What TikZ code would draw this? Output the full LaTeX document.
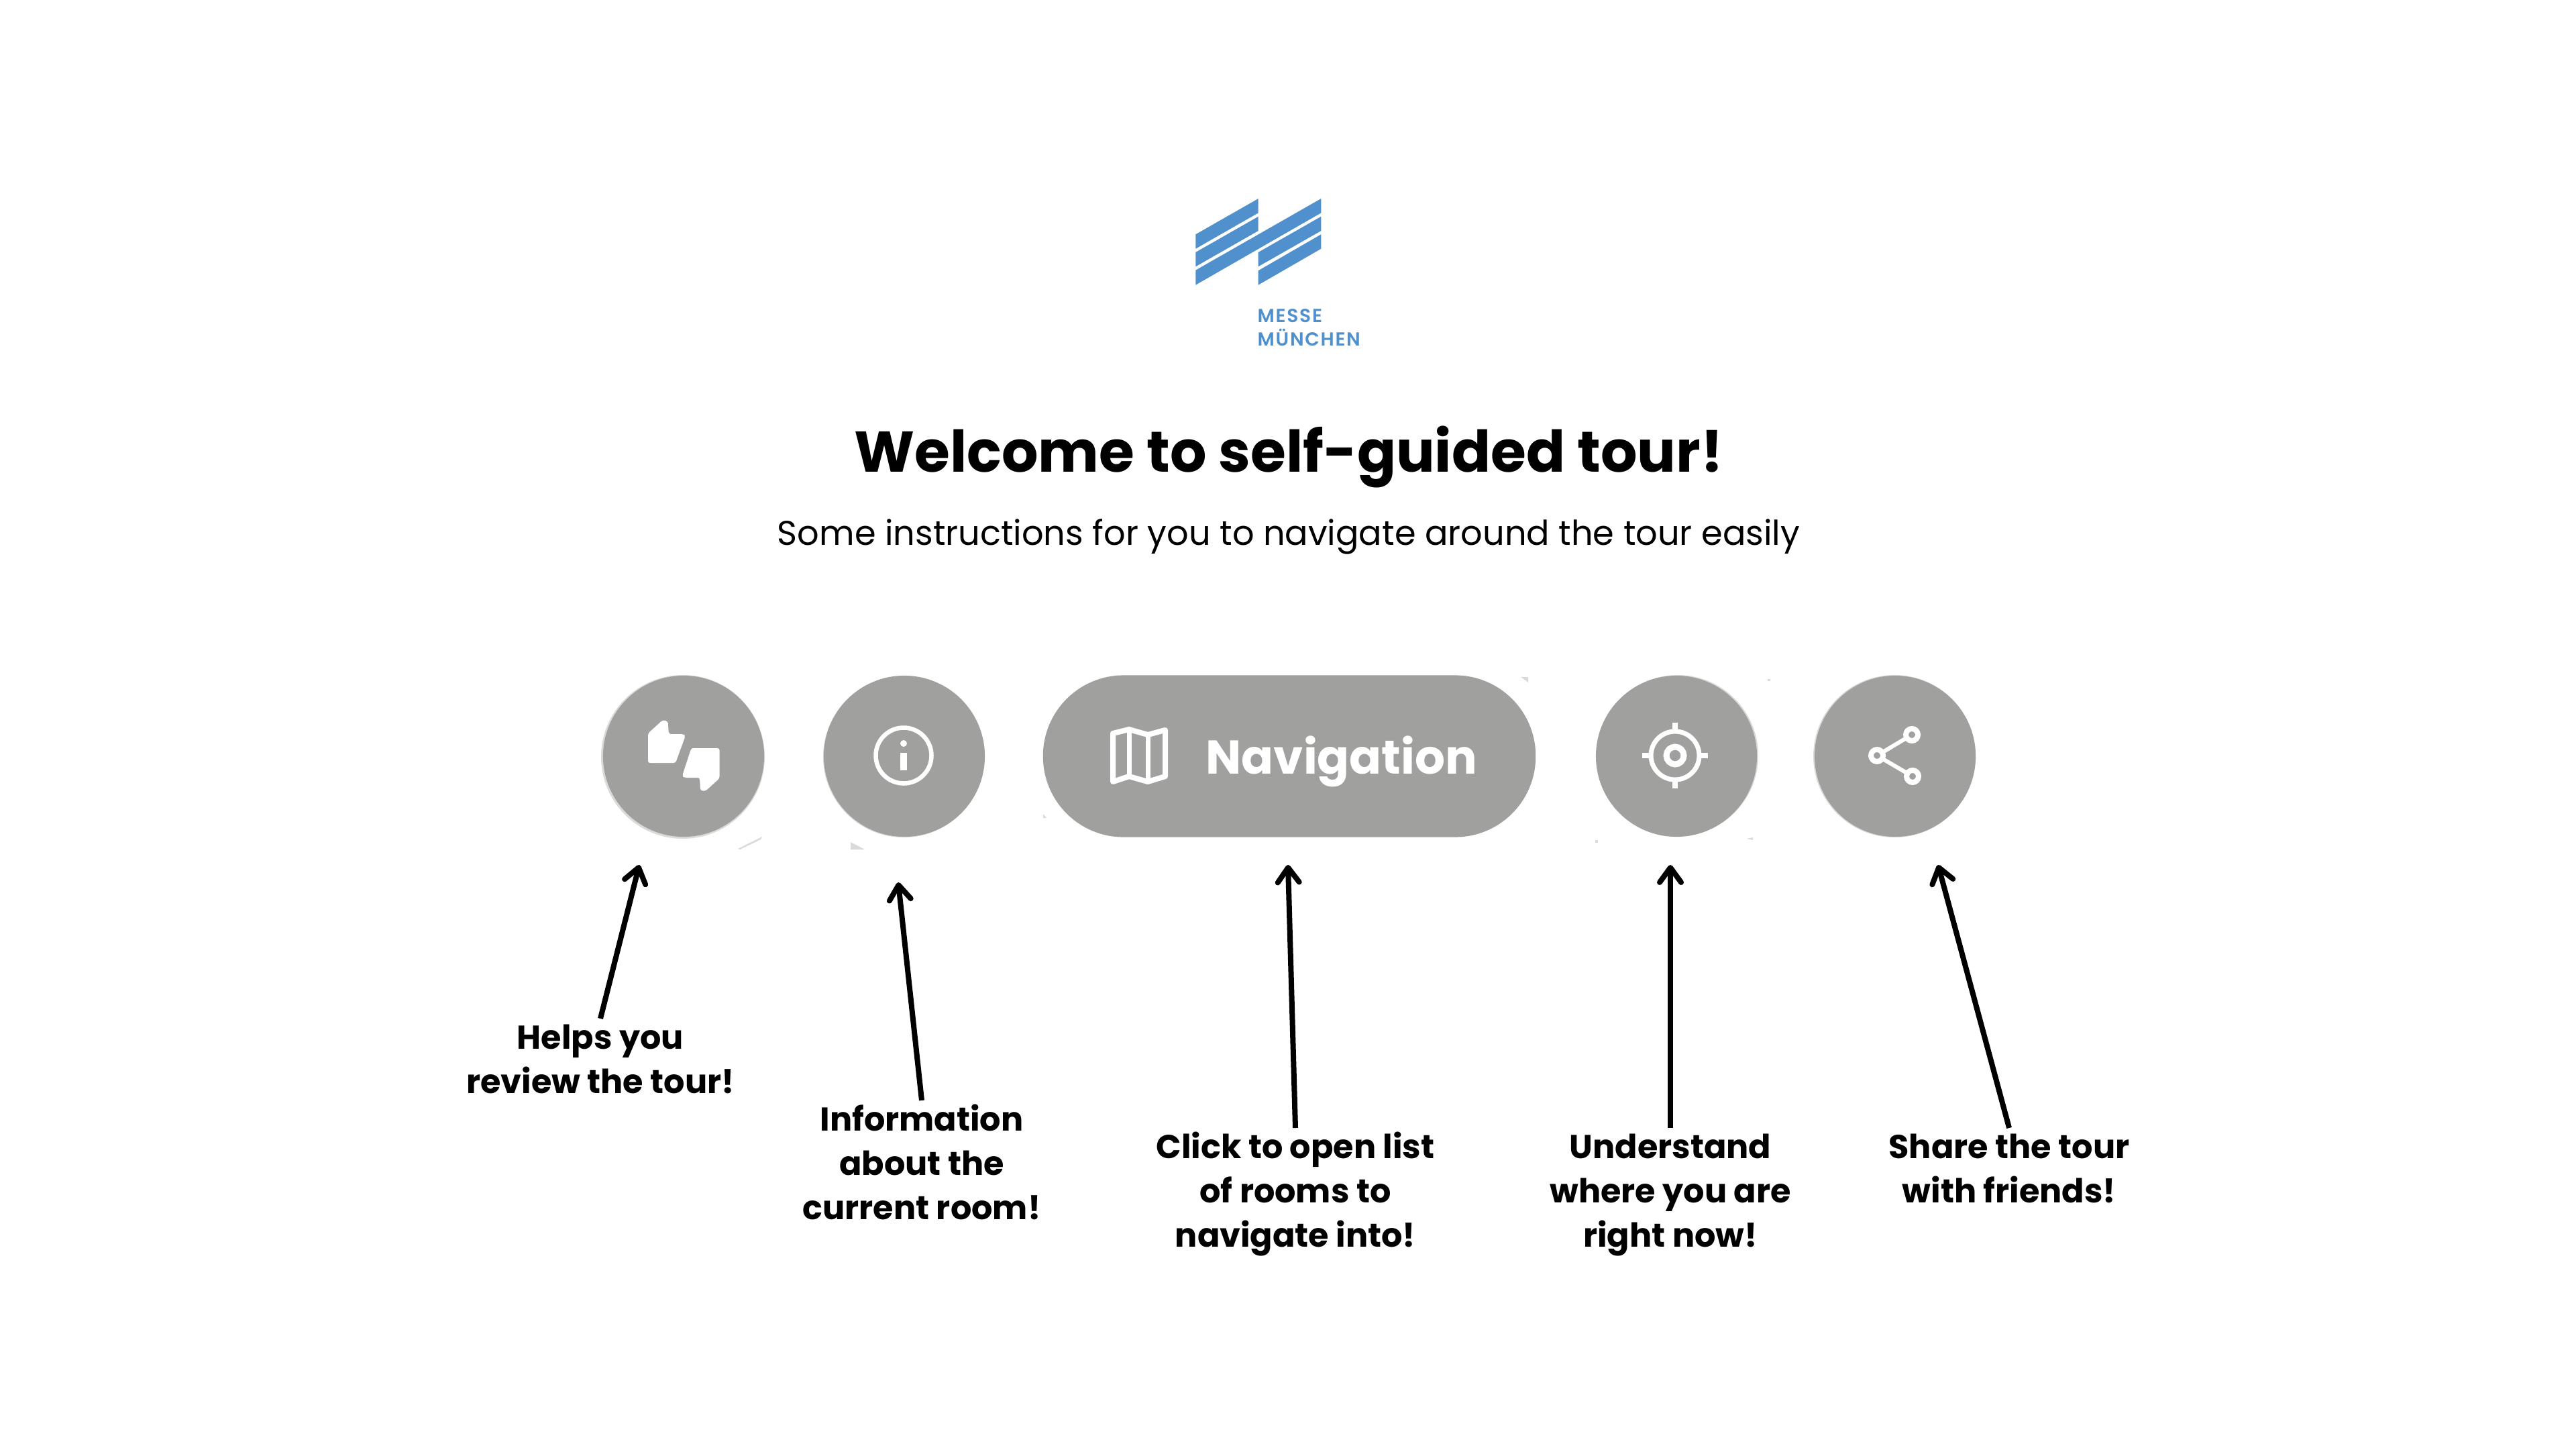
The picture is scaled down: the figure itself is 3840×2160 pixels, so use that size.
\documentclass[tikz,border=0pt]{standalone}
\usepackage{fontspec}
\usetikzlibrary{arrows.meta}
\setmainfont{Poppins}
\newfontfamily\popm[LetterSpace=6]{Poppins SemiBold}
\definecolor{logoblue}{HTML}{5090CC}
\definecolor{btngray}{HTML}{A0A09E}
\definecolor{fringe}{HTML}{DADAD8}
\newcommand{\firstrule}{\rule{0pt}{12.9pt}}
\tikzset{
  btn/.style={fill=btngray,draw=none,inner sep=0pt,outer sep=0pt},
  roundbtn/.style={btn,circle,minimum size=2.4cm},
  pillbtn/.style={btn,rounded corners=1.2cm,minimum width=7.34cm,minimum height=2.41cm},
  logoband/.style={fill=logoblue,draw=none},
  icon/.style={draw=white,line width=0.06cm,fill=none},
  iconfill/.style={fill=white,draw=none},
  logotext/.style={anchor=base west,inner sep=0pt,text=logoblue,font=\popm\fontsize{8pt}{9pt}\selectfont},
  callout/.style={font=\bfseries\fontsize{14.02pt}{18.8pt}\selectfont,align=center,anchor=north,inner sep=0pt,outer sep=0pt},
  pointer/.style={line width=0.08cm,black,-{Straight Barb[length=0.22cm,width=0.32cm,round,line width=0.08cm]}},
  frag/.style={fill=fringe,draw=none},
}
\begin{document}
\begin{tikzpicture}[x=0.01cm,y=-0.01cm]
\useasboundingbox (0,0) rectangle (3840,2160);
\fill[white] (0,0) rectangle (3840,2160);
% logo
\fill[logoband] (1782.3,349.3)--(1875.7,296)--(1875.7,317.3)--(1782.3,370.7)--cycle;
\fill[logoband] (1782.3,376)--(1875.7,322.7)--(1875.7,344)--(1782.3,397.3)--cycle;
\fill[logoband] (1782.3,402.7)--(1969.3,296)--(1969.3,317.3)--(1782.3,424.7)--cycle;
\fill[logoband] (1875.7,376)--(1969.3,322.7)--(1969.3,344)--(1875.7,397.3)--cycle;
\fill[logoband] (1875.7,403.3)--(1969.3,349.3)--(1969.3,370.7)--(1875.7,424.7)--cycle;
\node[logotext] (logoa) at (1874,480) {MESSE};
\node[logotext] (logob) at (1874,515) {MÜNCHEN};
% headings
\node[anchor=base,inner sep=0pt,font=\bfseries\fontsize{24.35pt}{30pt}\selectfont] (title) at (1921,703) {Welcome to self-guided tour!};
\node[anchor=base,inner sep=0pt,font=\fontsize{14.5pt}{19pt}\selectfont] (subtitle) at (1921,812) {Some instructions for you to navigate around the tour easily};
% scan fringes of the buttons
\fill[frag] (1018,1128) circle (122);
\fill[frag] (2501,1126) circle (120);
\fill[frag] (2824,1127) circle (121);
\fill[frag] (1347,1128) circle (120);
\fill[frag] (1100,1265)--(1136,1247)--(1134,1251)--(1103,1266)--cycle;
\fill[frag] (1268,1255)--(1289,1266)--(1268,1266)--cycle;
\fill[frag] (2267,1009)--(2278,1009)--(2278,1017)--cycle;
\fill[frag] (1555,1213)--(1560,1219)--(1555,1219)--cycle;
\fill[frag] (2635,1012) rectangle (2639,1015);
\fill[frag] (2604,1250)--(2613,1248)--(2613,1252)--cycle;
\fill[frag] (2378,1252) rectangle (2382,1256);
% buttons
\node[roundbtn] (review) at (1019,1127) {};
\node[roundbtn] (info) at (1348,1127) {};
\node[pillbtn] (nav) at (1922,1127) {};
\node[roundbtn] (locate) at (2499,1127) {};
\node[roundbtn] (share) at (2825,1127) {};
% thumbs
\fill[iconfill,rounded corners=0.03cm] (966,1093)--(988,1073)--(995.5,1075)--(997,1094)--(1019,1094)--(1021.6,1097)--(1007,1137)--(966,1137)--cycle;
\fill[iconfill,rounded corners=0.03cm] (1072.5,1115)--(1072.5,1160)--(1051.5,1179)--(1044,1178)--(1043,1159)--(1020,1159)--(1017,1156)--(1030.5,1115)--cycle;
% info
\draw[icon,line width=0.065cm] (1347,1126) circle (41.5);
\fill[iconfill] (1347,1108) circle (5);
\fill[iconfill] (1342,1122) rectangle (1352,1148);
% map
\draw[icon,line width=0.08cm,line join=round] (1659,1093)--(1683,1087)--(1711,1095)--(1737,1088)--(1737,1157)--(1711,1165)--(1683,1157)--(1659,1165)--cycle;
\draw[icon,line width=0.07cm] (1683,1087)--(1683,1157) (1711,1095)--(1711,1165);
\node[anchor=base west,inner sep=0pt,text=white,font=\bfseries\fontsize{20.1pt}{24pt}\selectfont] (navtext) at (1797,1153) {Navigation};
% target
\draw[icon,line width=0.07cm] (2497,1126) circle (36);
\draw[icon,line width=0.09cm] (2497,1126) circle (13);
\fill[iconfill] (2493,1077) rectangle (2501,1090);
\fill[iconfill] (2493,1162) rectangle (2501,1175);
\fill[iconfill] (2448,1122) rectangle (2461,1130);
\fill[iconfill] (2533,1122) rectangle (2546,1130);
% share
\draw[icon] (2798,1126)--(2850,1095) (2798,1126)--(2851,1157);
\draw[draw=white,line width=0.08cm,fill=btngray] (2850,1095) circle (9);
\draw[draw=white,line width=0.08cm,fill=btngray] (2798,1126) circle (9);
\draw[draw=white,line width=0.08cm,fill=btngray] (2851,1157) circle (9);
% callouts
\node[callout] (lab1) at (895,1518) {\firstrule Helps you\\review the tour!};
\node[callout] (lab2) at (1374,1640) {\firstrule Information\\about the\\current room!};
\node[callout] (lab3) at (1931,1681) {\firstrule Click to open list\\of rooms to\\navigate into!};
\node[callout] (lab4) at (2490,1681) {\firstrule Understand\\where you are\\right now!};
\node[callout] (lab5) at (2995,1681) {\firstrule Share the tour\\with friends!};
\coordinate (tip1) at (953,1289);
\coordinate (tip2) at (1339,1315);
\coordinate (tip3) at (1920,1289);
\coordinate (tip4) at (2490,1289);
\coordinate (tip5) at (2889,1289);
\draw[pointer] (lab1.north) -- (tip1);
\draw[pointer] (lab2.north) -- (tip2);
\draw[pointer] (lab3.north) -- (tip3);
\draw[pointer] (lab4.north) -- (tip4);
\draw[pointer] (lab5.north) -- (tip5);
\end{tikzpicture}
\end{document}
